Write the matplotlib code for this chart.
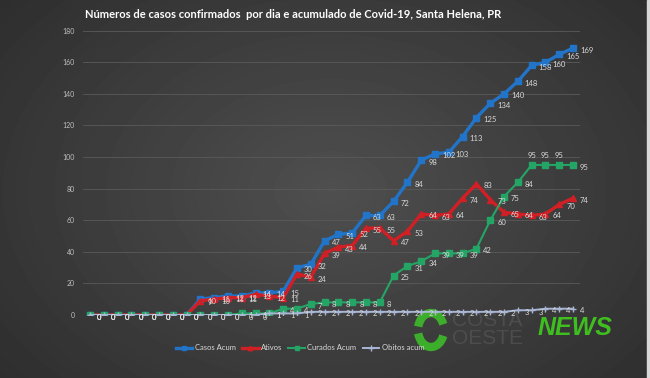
import numpy as np
import matplotlib
matplotlib.use("Agg")
import matplotlib.pyplot as plt
from matplotlib.patches import Arc

# data (one point per day)
casos_acum = [0, 0, 0, 0, 0, 0, 0, 0, 10, 11, 12, 12, 14, 14, 15, 30, 32, 47, 51, 52,
              63, 63, 72, 84, 98, 102, 103, 113, 125, 134, 140, 148, 158, 160, 165, 169]
ativos = [0, 0, 0, 0, 0, 0, 0, 0, 9, 10, 11, 11, 13, 12, 11, 26, 24, 39, 43, 44,
          55, 55, 47, 53, 64, 63, 64, 74, 83, 73, 65, 64, 63, 64, 70, 74]
curados_acum = [0, 0, 0, 0, 0, 0, 0, 0, 0, 0, 0, 1, 1, 1, 4, 4, 7, 8, 8, 8,
                8, 8, 25, 31, 34, 39, 39, 39, 42, 60, 75, 84, 95, 95, 95, 95]
obitos_acum = [0, 0, 0, 0, 0, 0, 0, 0, 0, 0, 0, 0, 0, 1, 1, 1, 2, 2, 2, 2,
               2, 2, 2, 2, 2, 2, 2, 2, 2, 2, 2, 3, 3, 4, 4, 4]
y_ticks = [0, 20, 40, 60, 80, 100, 120, 140, 160, 180]

title = "Números de casos confirmados  por dia e acumulado de Covid-19, Santa Helena, PR"

plt.rcParams["font.family"] = ["Lato", "DejaVu Sans"]

fig = plt.figure(figsize=(6.5, 3.78), dpi=100)

# dark radial background
bg = fig.add_axes([0, 0, 1, 1], zorder=-10)
yy, xx = np.mgrid[0:378, 0:650]
r = np.sqrt(((xx - 330) / 430.0) ** 2 + ((yy - 190) / 300.0) ** 2)
shade = np.clip(0.31 - 0.13 * r, 0.16, 0.31)
bg.imshow(shade, cmap="gray", vmin=0, vmax=1, aspect="auto", extent=[0, 650, 378, 0])
bg.axvspan(647, 650, color="#d8d8d8")
bg.set_xlim(0, 650)
bg.set_ylim(378, 0)
bg.axis("off")

ax = fig.add_axes([83 / 650, 1 - 315 / 378, (580 - 83) / 650, (315 - 30.7) / 378])
ax.set_facecolor("none")
x = np.arange(len(casos_acum))

series = [
    ("Casos Acum", casos_acum, "#2274c8", "s", 2.4, 4.0),
    ("Ativos", ativos, "#d01f25", "^", 2.4, 4.0),
    ("Curados Acum", curados_acum, "#25a565", "s", 1.5, 4.0),
    ("Obitos acum", obitos_acum, "#a9b6d6", "+", 1.4, 5.0),
]
for name, vals, col, mk, lw, ms in series:
    ax.plot(x, vals, color=col, lw=lw, marker=mk, ms=ms, mew=1.0, label=name,
            zorder=3)

for name, vals, col, mk, lw, ms in series:
    for i, v in enumerate(vals):
        if name == "Curados Acum" and 32 <= i <= 34:
            ax.annotate(str(v), (i, v), xytext=(0, 4), textcoords="offset points",
                        ha="center", va="bottom", fontsize=5.5, color="#d9d9d9",
                        zorder=4)
        else:
            ax.annotate(str(v), (i, v), xytext=(5, -1.5), textcoords="offset points",
                        ha="left", va="center", fontsize=5.5, color="#d9d9d9",
                        zorder=4)

ax.set_xlim(-0.5, len(x) - 0.5)
ax.set_ylim(0, 180)
ax.set_yticks(y_ticks)
ax.set_xticks([])
ax.tick_params(axis="y", length=0, labelsize=5, labelcolor="#bfbfbf", pad=6)
ax.grid(axis="y", color="#5a5a5a", lw=0.6)
for s in ax.spines.values():
    s.set_visible(False)

fig.text(293 / 650, 1 - 15 / 378, title, ha="center", va="center",
         fontsize=8, fontweight="bold", color="white")

leg = ax.legend(loc="center", bbox_to_anchor=(300 / 650, 1 - 348 / 378),
                bbox_transform=fig.transFigure, ncol=4, frameon=False,
                fontsize=5.5, labelcolor="#d9d9d9", handlelength=2.2,
                columnspacing=0.8, handletextpad=0.3, markerscale=0.8)

# watermark logo
bg.add_patch(Arc((431, 330), 26, 34, theta1=25, theta2=165, lw=6, color="#3dae2b"))
bg.add_patch(Arc((431, 330), 26, 34, theta1=195, theta2=335, lw=6, color="#3dae2b"))
bg.text(452, 321, "COSTA", fontsize=15, color="#5a5a5a", alpha=0.6, va="center",
        ha="left", family="Liberation Sans")
bg.text(452, 339, "OESTE", fontsize=15, color="#5a5a5a", alpha=0.6, va="center",
        ha="left", family="Liberation Sans")
bg.text(538, 328, "NEWS", fontsize=18, color="#3fbf1f", fontweight="heavy",
        style="italic", va="center", ha="left", family="Liberation Sans")

fig.savefig("out.png", dpi=100)
